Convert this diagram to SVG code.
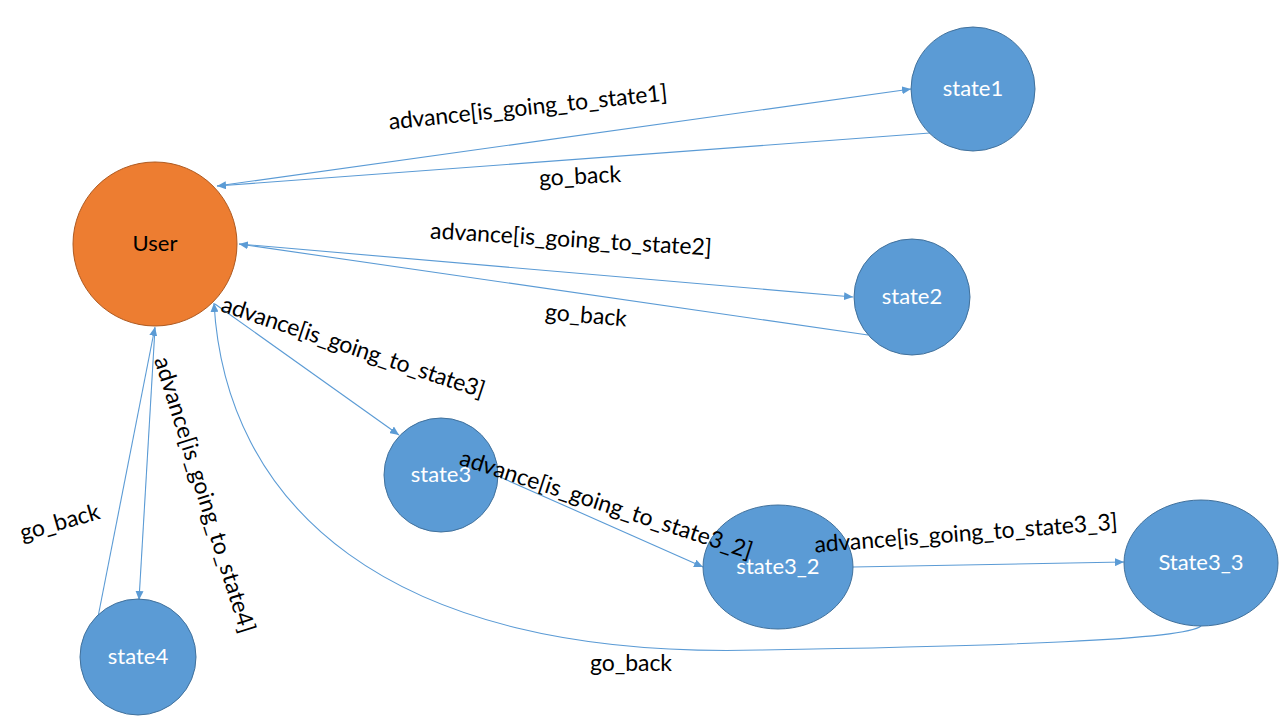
<svg xmlns="http://www.w3.org/2000/svg" width="1280" height="720" viewBox="0 0 1280 720">
<style>
.bg{fill:#ffffff}
.user{fill:#ED7D31;stroke:#AE5A21;stroke-width:1}
.st{fill:#5B9BD5;stroke:#41719C;stroke-width:1}
.nl{font-family:Lato,"Liberation Sans",sans-serif;font-size:22px;fill:#ffffff;text-anchor:middle}
.ul{font-family:Lato,"Liberation Sans",sans-serif;font-size:22px;fill:#000000;text-anchor:middle}
.el{font-family:Lato,"Liberation Sans",sans-serif;font-size:23px;fill:#000000;text-anchor:middle}
.c{fill:none;stroke:#5B9BD5;stroke-width:1.1}
</style>
<defs>
<marker id="ah" markerUnits="userSpaceOnUse" markerWidth="10" markerHeight="8" refX="9" refY="4" orient="auto">
<path d="M0,0 L9,4 L0,8 z" fill="#5B9BD5"/>
</marker>
</defs>
<rect class="bg" x="0" y="0" width="1280" height="720"/>
<g id="connectors">
<line class="c" x1="217" y1="186" x2="911" y2="89" marker-end="url(#ah)"/>
<line class="c" x1="930" y1="133" x2="217" y2="186" marker-end="url(#ah)"/>
<line class="c" x1="239" y1="244" x2="853" y2="297" marker-end="url(#ah)"/>
<line class="c" x1="868" y1="335" x2="239" y2="244" marker-end="url(#ah)"/>
<line class="c" x1="215" y1="304" x2="399" y2="435" marker-end="url(#ah)"/>
<line class="c" x1="155" y1="328" x2="139" y2="600" marker-end="url(#ah)"/>
<line class="c" x1="98" y1="617" x2="155" y2="327" marker-end="url(#ah)"/>
<line class="c" x1="500" y1="477" x2="703" y2="567" marker-end="url(#ah)"/>
<line class="c" x1="853" y1="567" x2="1124" y2="562" marker-end="url(#ah)"/>
<path class="c" d="M1201,626 C1185,640 1000,646 760,650 C380,660 225,500 214,303" marker-end="url(#ah)"/>
</g>
<g id="User">
<circle class="user" cx="155" cy="244" r="82"/>
<text class="ul" x="155" y="251">User</text>
</g>
<g id="state1">
<circle class="st" cx="973" cy="89" r="62"/>
<text class="nl" x="973" y="96">state1</text>
</g>
<g id="state2">
<circle class="st" cx="912" cy="297" r="58"/>
<text class="nl" x="912" y="304">state2</text>
</g>
<g id="state3">
<circle class="st" cx="441" cy="475" r="57"/>
<text class="nl" x="441" y="482">state3</text>
</g>
<g id="state3_2">
<ellipse class="st" cx="778" cy="567" rx="75" ry="62"/>
<text class="nl" x="778" y="574">state3_2</text>
</g>
<g id="State3_3">
<ellipse class="st" cx="1201" cy="563" rx="77" ry="63"/>
<text class="nl" x="1201" y="570">State3_3</text>
</g>
<g id="state4">
<circle class="st" cx="138" cy="657" r="58"/>
<text class="nl" x="138" y="664">state4</text>
</g>
<g id="edge-labels">
<text class="el" x="528" y="115" transform="rotate(-6 528 108)" textLength="280">advance[is_going_to_state1]</text>
<text class="el" x="580" y="184" transform="rotate(-3 580 177)" textLength="82">go_back</text>
<text class="el" x="571" y="247" transform="rotate(3.5 571 240)" textLength="282">advance[is_going_to_state2]</text>
<text class="el" x="586" y="323" transform="rotate(5 586 316)" textLength="82">go_back</text>
<text class="el" x="353" y="355" transform="rotate(18.4 353 348)" textLength="276">advance[is_going_to_state3]</text>
<text class="el" x="204" y="502" transform="rotate(72.5 204 495)" textLength="288">advance[is_going_to_state4]</text>
<text class="el" x="60" y="530" transform="rotate(-16 60 523)" textLength="82">go_back</text>
<text class="el" x="606" y="512" transform="rotate(18 606 505)" textLength="306">advance[is_going_to_state3_2]</text>
<text class="el" x="966" y="541" transform="rotate(-4.3 966 534)" textLength="304">advance[is_going_to_state3_3]</text>
<text class="el" x="631" y="671" textLength="82">go_back</text>
</g>
</svg>
